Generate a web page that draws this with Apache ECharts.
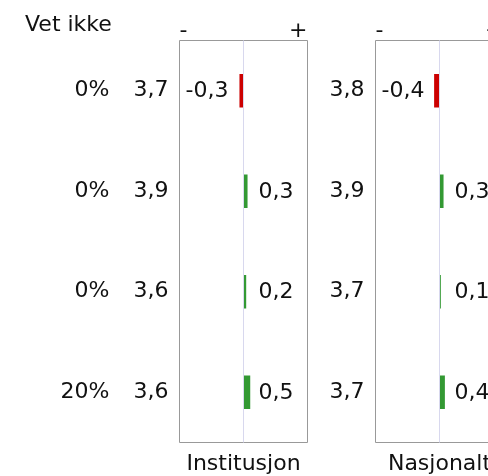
<!DOCTYPE html>
<html>
<head>
<meta charset="utf-8">
<script src="https://cdn.jsdelivr.net/npm/echarts@6/dist/echarts.min.js"></script>
<style>
  html, body { margin: 0; padding: 0; background: #fff; }
  #main { width: 488px; height: 476px; }
</style>
</head>
<body>
<div id="main"></div>
<script>
var categories = ['1', '2', '3', '4'];
var vetIkke = [0, 0, 0, 20];
var instMean = [3.7, 3.9, 3.6, 3.6];
var instDiff = [-0.3, 0.3, 0.2, 0.5];
var nasjMean = [3.8, 3.9, 3.7, 3.7];
var nasjDiff = [-0.4, 0.3, 0.1, 0.4];
var panelNames = ['Institusjon', 'Nasjonalt'];

var FONT = 'DejaVu Sans';
var FS = 22;
var LIM = 4.75;

function fmt(v) {
  return v.toFixed(1).replace('.', ',');
}

var chartDom = document.getElementById('main');
var myChart = echarts.init(chartDom);

// bar + label drawn from the axis coords; label sits at a fixed gap from zero
function renderDiff(params, api) {
  var cat = api.value(0);
  var v = api.value(1);
  var zero = api.coord([0, cat]);
  var end = api.coord([v, cat]);
  var h = api.size([0, 1])[1] / 3;
  var x0 = Math.min(zero[0], end[0]);
  var w = Math.abs(end[0] - zero[0]);
  return {
    type: 'group',
    children: [
      {
        type: 'rect',
        shape: { x: x0, y: zero[1] - h / 2, width: w, height: h },
        style: { fill: v < 0 ? '#cc0000' : '#339933' }
      },
      {
        type: 'text',
        x: v < 0 ? zero[0] - 15 : zero[0] + 15,
        y: zero[1] + 1,
        style: {
          text: fmt(v),
          fill: '#111',
          font: FS + 'px "' + FONT + '"',
          align: v < 0 ? 'right' : 'left',
          verticalAlign: 'middle'
        }
      }
    ]
  };
}

function diffData(arr) {
  return arr.map(function (v, i) { return [i, v]; });
}

var zeroLine = {
  silent: true, symbol: 'none', animation: false,
  label: { show: false },
  lineStyle: { color: '#d8d8ee', width: 1, type: 'solid' },
  data: [{ xAxis: 0 }]
};

var gridLefts = [179.5, 375.5];
var grids = gridLefts.map(function (l) {
  return {
    left: l, top: 40.5, width: 128, height: 402,
    outerBoundsMode: 'none', containLabel: false,
    show: true, borderColor: '#999', borderWidth: 1, backgroundColor: 'transparent'
  };
});

var xAxes = [];
var yAxes = [];
[0, 1].forEach(function (g) {
  xAxes.push({
    gridIndex: g, type: 'value', position: 'bottom',
    min: -LIM, max: LIM, interval: LIM,
    axisLine: { show: false }, axisTick: { show: false }, axisLabel: { show: false },
    splitLine: { show: false },
    name: panelNames[g], nameLocation: 'middle', nameGap: 11,
    nameTextStyle: { fontFamily: FONT, fontSize: FS, color: '#111' }
  });
  xAxes.push({
    gridIndex: g, type: 'value', position: 'top',
    min: -LIM, max: LIM, interval: LIM,
    axisLine: { show: false }, axisTick: { show: false }, splitLine: { show: false },
    axisLabel: {
      show: true, margin: -2, fontFamily: FONT, fontSize: FS, color: '#111',
      alignMinLabel: 'left', alignMaxLabel: 'right',
      formatter: function (v) { return v < 0 ? '-' : (v > 0 ? '+' : ''); }
    }
  });
});

var meanSets = [instMean, nasjMean];
[0, 1].forEach(function (g) {
  yAxes.push({
    gridIndex: g, type: 'category', data: categories, inverse: true,
    axisLine: { show: false }, axisTick: { show: false }, splitLine: { show: false },
    axisLabel: {
      margin: 11, fontFamily: FONT, fontSize: FS, color: '#111',
      formatter: function (val, idx) { return fmt(meanSets[g][idx]); }
    }
  });
});
yAxes.push({
  gridIndex: 0, type: 'category', data: categories, inverse: true, position: 'left', offset: 59,
  axisLine: { show: false }, axisTick: { show: false }, splitLine: { show: false },
  axisLabel: {
    margin: 11, fontFamily: FONT, fontSize: FS, color: '#111',
    formatter: function (val, idx) { return vetIkke[idx] + '%'; }
  }
});

var option = {
  animation: false,
  backgroundColor: '#fff',
  title: {
    text: 'Vet ikke', left: 20, top: 9,
    textStyle: { fontFamily: FONT, fontSize: FS, fontWeight: 'normal', color: '#111' }
  },
  grid: grids,
  xAxis: xAxes,
  yAxis: yAxes,
  series: [
    { type: 'custom', xAxisIndex: 0, yAxisIndex: 0, renderItem: renderDiff, data: diffData(instDiff), encode: { x: 1, y: 0 }, markLine: zeroLine, z: 3 },
    { type: 'custom', xAxisIndex: 2, yAxisIndex: 1, renderItem: renderDiff, data: diffData(nasjDiff), encode: { x: 1, y: 0 }, markLine: zeroLine, z: 3 }
  ]
};

option && myChart.setOption(option);
</script>
</body>
</html>
